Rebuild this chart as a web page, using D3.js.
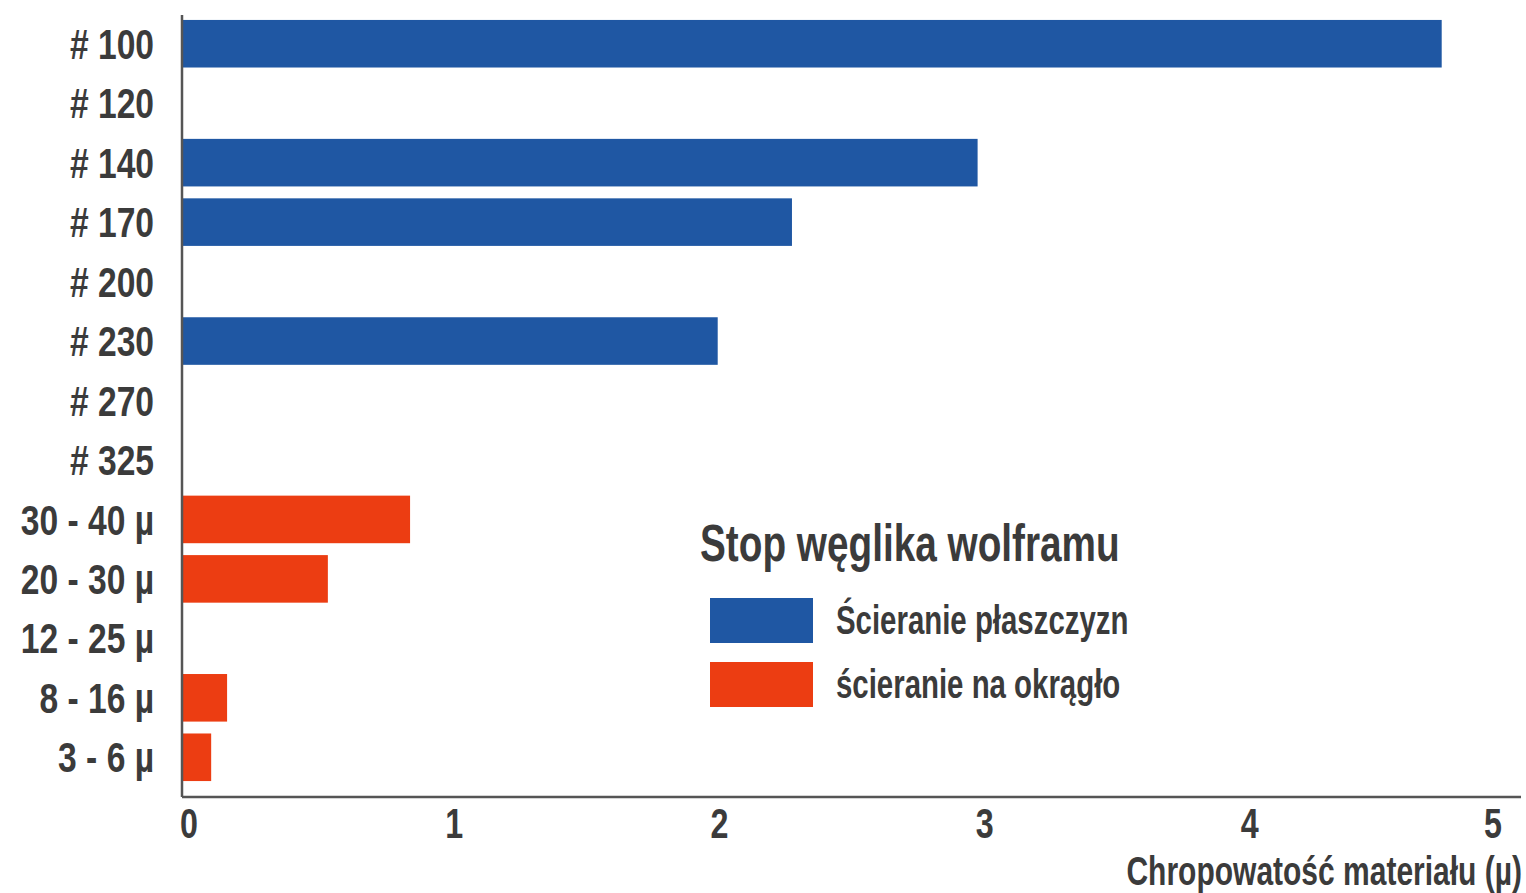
<!DOCTYPE html>
<html>
<head>
<meta charset="utf-8">
<script src="https://cdn.jsdelivr.net/npm/d3@7"></script>
<style>
  html, body { margin: 0; padding: 0; background: #fff; }
  svg { display: block; }
  text { font-family: "Liberation Sans Narrow", "Arial Narrow", "Liberation Sans", sans-serif; fill: #3b3b3b; }
</style>
</head>
<body>
<svg id="chart" width="1526" height="893"></svg>
<script>
// Grit sizes (mesh numbers and micron ranges), top to bottom
const categories = ["# 100", "# 120", "# 140", "# 170", "# 200", "# 230", "# 270", "# 325",
                    "30 - 40 µ", "20 - 30 µ", "12 - 25 µ", "8 - 16 µ", "3 - 6 µ"];
// Surface roughness (µ) for flat grinding; null = no bar
const flatValues  = [4.75, null, 3.0, 2.3, null, 2.02, null, null, null, null, null, null, null];
// Surface roughness (µ) for cylindrical grinding
const roundValues = [null, null, null, null, null, null, null, null, 0.86, 0.55, null, 0.17, 0.11];
const xTicks = [0, 1, 2, 3, 4, 5];
const seriesNames = ["Ścieranie płaszczyzn", "ścieranie na okrągło"];
const seriesColors = ["#1f57a3", "#ec3d12"];
const legendTitle = "Stop węglika wolframu";
const xTitle = "Chropowatość materiału (µ)";

const svg = d3.select("#chart");
const plotLeft = 182, plotRight = 1508, plotTop = 14, bandBottom = 787, axisY = 797;

const x = d3.scaleLinear().domain([0, 5]).range([plotLeft, plotRight]);
const y = d3.scaleBand().domain(categories).range([plotTop, bandBottom]).paddingInner(0.2).paddingOuter(0.1);

// Condensed text: horizontal squeeze around the anchor point
const squeeze = (px, py, sx) => `translate(${px},${py}) scale(${sx},1)`;

// Bars
const rows = categories.map((c, i) => ({ c, flat: flatValues[i], round: roundValues[i] }));
svg.append("g").selectAll("rect")
  .data(rows.filter(d => d.flat != null))
  .join("rect")
  .attr("x", x(0)).attr("y", d => y(d.c))
  .attr("width", d => x(d.flat) - x(0)).attr("height", y.bandwidth())
  .attr("fill", seriesColors[0]);
svg.append("g").selectAll("rect")
  .data(rows.filter(d => d.round != null))
  .join("rect")
  .attr("x", x(0)).attr("y", d => y(d.c))
  .attr("width", d => x(d.round) - x(0)).attr("height", y.bandwidth())
  .attr("fill", seriesColors[1]);

// Axis lines
svg.append("line").attr("x1", plotLeft).attr("x2", plotLeft).attr("y1", 15).attr("y2", axisY)
  .attr("stroke", "#555").attr("stroke-width", 2.5);
svg.append("line").attr("x1", plotLeft).attr("x2", 1521).attr("y1", axisY).attr("y2", axisY)
  .attr("stroke", "#555").attr("stroke-width", 2.5);

// Category labels
svg.append("g").selectAll("text")
  .data(categories)
  .join("text")
  .attr("transform", d => squeeze(154, y(d) + y.bandwidth() / 2, 0.8))
  .attr("dy", "0.36em")
  .attr("text-anchor", "end")
  .attr("font-size", 42)
  .attr("font-weight", "bold")
  .text(d => d);

// X tick labels
svg.append("g").selectAll("text")
  .data(xTicks)
  .join("text")
  .attr("transform", (d, i) => squeeze(i === xTicks.length - 1 ? x(d) - 15 : x(d) + 7, 838, 0.75))
  .attr("text-anchor", "middle")
  .attr("font-size", 43)
  .attr("font-weight", "bold")
  .text(d => d);

// X axis title
svg.append("text")
  .attr("transform", squeeze(1522, 885, 0.75))
  .attr("text-anchor", "end")
  .attr("font-size", 40)
  .attr("font-weight", "bold")
  .text(xTitle);

// Legend
const lg = svg.append("g");
lg.append("text").attr("transform", squeeze(700, 561, 0.745))
  .attr("font-size", 52).attr("font-weight", "bold").text(legendTitle);
seriesNames.forEach((name, i) => {
  const yy = 598 + i * 64;
  lg.append("rect").attr("x", 710).attr("y", yy).attr("width", 103).attr("height", 45)
    .attr("fill", seriesColors[i]);
  lg.append("text").attr("transform", squeeze(836, yy + 22, 0.735)).attr("dy", "0.36em")
    .attr("font-size", 40).attr("font-weight", "bold").text(name);
});
</script>
</body>
</html>
